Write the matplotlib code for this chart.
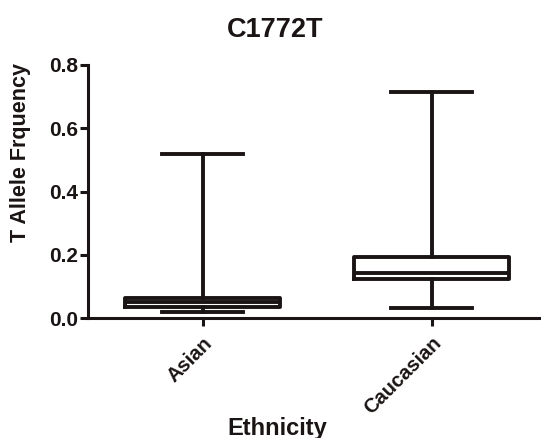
import matplotlib
matplotlib.use("Agg")
import matplotlib.pyplot as plt

plt.rcParams["font.family"] = ["Liberation Sans", "DejaVu Sans"]

# ─────────────────────────────────────────────────────────────────────────────
# Data (box = q1/median/q3, whiskers = min/max)
groups = ["Asian", "Caucasian"]
whislo = [0.019, 0.032]
q1 = [0.036, 0.124]
med = [0.050, 0.143]
q3 = [0.062, 0.193]
whishi = [0.518, 0.715]
yticks = [0.0, 0.2, 0.4, 0.6, 0.8]

stats = []
for i, g in enumerate(groups):
    stats.append({"label": g, "whislo": whislo[i], "q1": q1[i], "med": med[i],
                  "q3": q3[i], "whishi": whishi[i], "fliers": []})

# ─────────────────────────────────────────────────────────────────────────────
fig = plt.figure(figsize=(5.41, 4.38), dpi=100)
ax = fig.add_axes([88 / 541, 120 / 438, 1 - 88 / 541, 253 / 438])

ink = "#1a1414"
lw = 2.8
line = dict(color=ink, linewidth=lw)
ax.bxp(stats, positions=[1, 2], widths=0.68, capwidths=0.35,
       boxprops=line, whiskerprops=line, capprops=line,
       medianprops=dict(color=ink, linewidth=lw), showfliers=False)

ax.set_xlim(0.5, 2.478)
ax.set_ylim(0, 0.8)
ax.set_yticks(yticks)
ax.set_yticklabels([f"{t:.1f}" for t in yticks], fontsize=15,
                   fontweight="bold", color=ink)
ax.set_xticks([1, 2])
ax.set_xticklabels(groups, rotation=45, ha="right", rotation_mode="anchor",
                   fontsize=14.5, fontweight="bold", color=ink)

for s in ["top", "right"]:
    ax.spines[s].set_visible(False)
for s in ["left", "bottom"]:
    ax.spines[s].set_linewidth(2.2)
    ax.spines[s].set_color(ink)
ax.tick_params(axis="both", direction="out", length=6, width=2.2,
               color=ink, pad=1)
ax.tick_params(axis="x", pad=5)

fig.text(275 / 541, 1 - 30 / 438, "C1772T", ha="center", va="center",
         fontsize=19.5, fontweight="bold", color=ink)
fig.text(277 / 541, 1 - 428 / 438, "Ethnicity", ha="center", va="center",
         fontsize=17, fontweight="bold", color=ink)
fig.text(21 / 541, 1 - 152 / 438, "T Allele Frquency", ha="center", va="center",
         rotation=90, fontsize=15.5, fontweight="bold", color=ink)

fig.savefig("out.png", dpi=100, facecolor="white")
